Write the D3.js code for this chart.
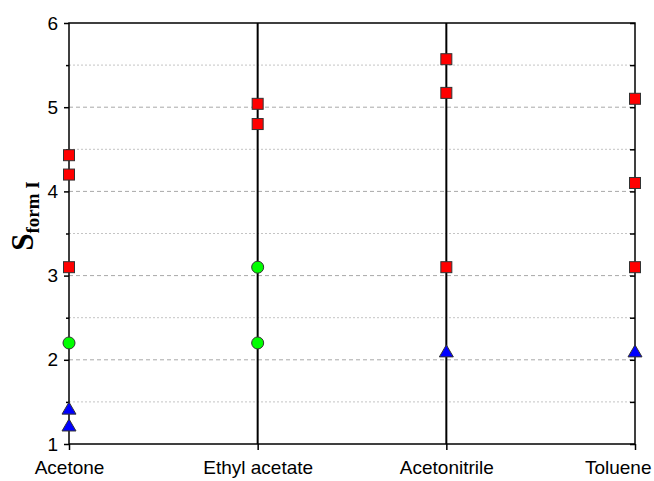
<!DOCTYPE html>
<html>
<head>
<meta charset="utf-8">
<script src="https://cdn.jsdelivr.net/npm/d3@7"></script>
<style>
  body { margin: 0; background: #fff; }
</style>
</head>
<body>
<div id="chart"></div>
<script>
const categories = ['Acetone', 'Ethyl acetate', 'Acetonitrile', 'Toluene']
// one array per marker type, index matches categories
const squareValues = [[4.43, 4.2, 3.1], [5.04, 4.8], [5.57, 5.17, 3.1], [5.1, 4.1, 3.1]]
const circleValues = [[2.2], [3.1, 2.2], [], []]
const triangleValues = [[1.42, 1.22], [], [2.1], [2.1]]
const yTicks = [1, 2, 3, 4, 5, 6]
const yMinorTicks = [1.5, 2.5, 3.5, 4.5, 5.5]

const width = 654
const height = 481
const plotLeft = 69, plotRight = 635, plotTop = 23, plotBottom = 444

const svg = d3.select('#chart').append('svg')
    .attr('width', width)
    .attr('height', height)

const xScale = d3.scalePoint()
    .domain(categories)
    .range([plotLeft, plotRight])

const yScale = d3.scaleLinear()
    .domain([1, 6])
    .range([plotBottom, plotTop])

// grid
svg.append('g')
    .selectAll('line')
    .data(yTicks.slice(1, -1))
    .join('line')
    .attr('x1', plotLeft).attr('x2', plotRight)
    .attr('y1', d => yScale(d)).attr('y2', d => yScale(d))
    .attr('stroke', '#a8a8a8')
    .attr('stroke-width', 1)
    .attr('stroke-dasharray', '4,3')

svg.append('g')
    .selectAll('line')
    .data(yMinorTicks)
    .join('line')
    .attr('x1', plotLeft).attr('x2', plotRight)
    .attr('y1', d => yScale(d)).attr('y2', d => yScale(d))
    .attr('stroke', '#c4c4c4')
    .attr('stroke-width', 1)
    .attr('stroke-dasharray', '2,2')

// vertical lines at middle categories
svg.append('g')
    .selectAll('line')
    .data(categories.slice(1, -1))
    .join('line')
    .attr('x1', d => xScale(d)).attr('x2', d => xScale(d))
    .attr('y1', plotTop).attr('y2', plotBottom)
    .attr('stroke', '#000')
    .attr('stroke-width', 2)

// axes
const tickFont = 'Liberation Sans, Arial, sans-serif'

const yAxisLeft = g => g
    .attr('transform', `translate(${plotLeft}, 0)`)
    .call(d3.axisLeft(yScale).tickValues(yTicks).tickSize(5).tickPadding(6).tickFormat(d3.format('d')))
    .call(g => g.select('.domain').remove())
    .call(g => g.selectAll('text').attr('font-size', 19).attr('font-family', tickFont).attr('fill', '#000'))
    .call(g => g.selectAll('line').attr('stroke-width', 1.5))

const yAxisLeftMinor = g => g
    .attr('transform', `translate(${plotLeft}, 0)`)
    .call(d3.axisLeft(yScale).tickValues(yMinorTicks).tickSize(3).tickFormat(''))
    .call(g => g.select('.domain').remove())
    .call(g => g.selectAll('line').attr('stroke-width', 1.5))

const yAxisRight = g => g
    .attr('transform', `translate(${plotRight}, 0)`)
    .call(d3.axisLeft(yScale).tickValues(yTicks.concat(yMinorTicks)).tickSize(-5).tickFormat(''))
    .call(g => g.select('.domain').remove())
    .call(g => g.selectAll('line').attr('x2', -5).attr('stroke-width', 1.5))

const xAxis = g => g
    .attr('transform', `translate(0, ${plotBottom})`)
    .call(d3.axisBottom(xScale).tickSize(6).tickPadding(11))
    .call(g => g.select('.domain').remove())
    .call(g => g.selectAll('text').attr('font-size', 19).attr('font-family', tickFont).attr('fill', '#000'))
    .call(g => g.selectAll('line').attr('stroke-width', 1.5))
    // keep the last label inside the page
    .call(g => g.selectAll('.tick').filter(d => d === 'Toluene').select('text')
        .attr('text-anchor', 'end').attr('x', width - 3 - plotRight))

svg.append('g').call(yAxisLeft)
svg.append('g').call(yAxisLeftMinor)
svg.append('g').call(yAxisRight)
svg.append('g').call(xAxis)

// frame
svg.append('rect')
    .attr('x', plotLeft).attr('y', plotTop)
    .attr('width', plotRight - plotLeft).attr('height', plotBottom - plotTop)
    .attr('fill', 'none')
    .attr('stroke', '#000')
    .attr('stroke-width', 1.5)

// y label
const ylab = svg.append('text')
    .attr('transform', `translate(33, 216) rotate(-90)`)
    .attr('text-anchor', 'middle')
    .attr('font-family', 'Liberation Serif, Times New Roman, serif')
    .attr('font-weight', 'bold')
    .attr('fill', '#000')
ylab.append('tspan').attr('font-size', 31).text('S')
ylab.append('tspan').attr('font-size', 19).attr('dy', 6).text('form I')

// markers
const flatten = (arr) => arr.flatMap((vals, i) => vals.map(v => ({ cat: categories[i], v })))

svg.append('g')
    .selectAll('rect')
    .data(flatten(squareValues))
    .join('rect')
    .attr('x', d => xScale(d.cat) - 5.5)
    .attr('y', d => yScale(d.v) - 5.5)
    .attr('width', 11).attr('height', 11)
    .attr('fill', '#ff0000')
    .attr('stroke', '#333')
    .attr('stroke-width', 1)

svg.append('g')
    .selectAll('circle')
    .data(flatten(circleValues))
    .join('circle')
    .attr('cx', d => xScale(d.cat))
    .attr('cy', d => yScale(d.v))
    .attr('r', 6)
    .attr('fill', '#00ff00')
    .attr('stroke', '#333')
    .attr('stroke-width', 1)

svg.append('g')
    .selectAll('path')
    .data(flatten(triangleValues))
    .join('path')
    .attr('transform', d => `translate(${xScale(d.cat)}, ${yScale(d.v)})`)
    .attr('d', 'M0,-6.5L7,5.5L-7,5.5Z')
    .attr('fill', '#0000ff')
    .attr('stroke', '#333')
    .attr('stroke-width', 1)
</script>
</body>
</html>
